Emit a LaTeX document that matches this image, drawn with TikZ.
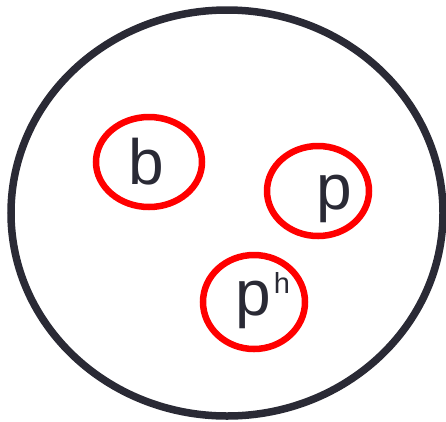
\documentclass[tikz,border=0pt]{standalone}
\usepackage{fontspec}
\setmainfont{Liberation Sans}
\usepackage{tikz}
\usetikzlibrary{positioning}

\definecolor{ink}{HTML}{2A2A35}
\definecolor{ringred}{HTML}{FF0000}

\begin{document}
\begin{tikzpicture}[x=1pt, y=-1pt,
    outer/.style={draw=ink, line width=7.5pt},
    ring/.style={draw=ringred, line width=6.5pt},
    letter/.style={anchor=base west, inner sep=0pt, text=ink, font=\fontsize{64}{64}\selectfont}]
        \path[use as bounding box] (0, 0) rectangle (446, 421);
        \draw[outer] (227, 213) ellipse [x radius=216pt, y radius=203pt];
        \draw[ring] (149, 162) ellipse [x radius=53pt, y radius=45pt];
        \draw[ring] (318, 191) ellipse [x radius=51pt, y radius=45pt];
        \draw[ring] (254, 302) ellipse [x radius=51pt, y radius=47pt];
        \node[letter] (b) at (128, 184) {b};
        \node[letter] (p) at (316, 209) {p};
        \node[letter] (ph) at (235, 315) {p\hspace{3pt}{\fontsize{29}{29}\selectfont\raisebox{22pt}{h}}};
    \end{tikzpicture}
\end{document}
